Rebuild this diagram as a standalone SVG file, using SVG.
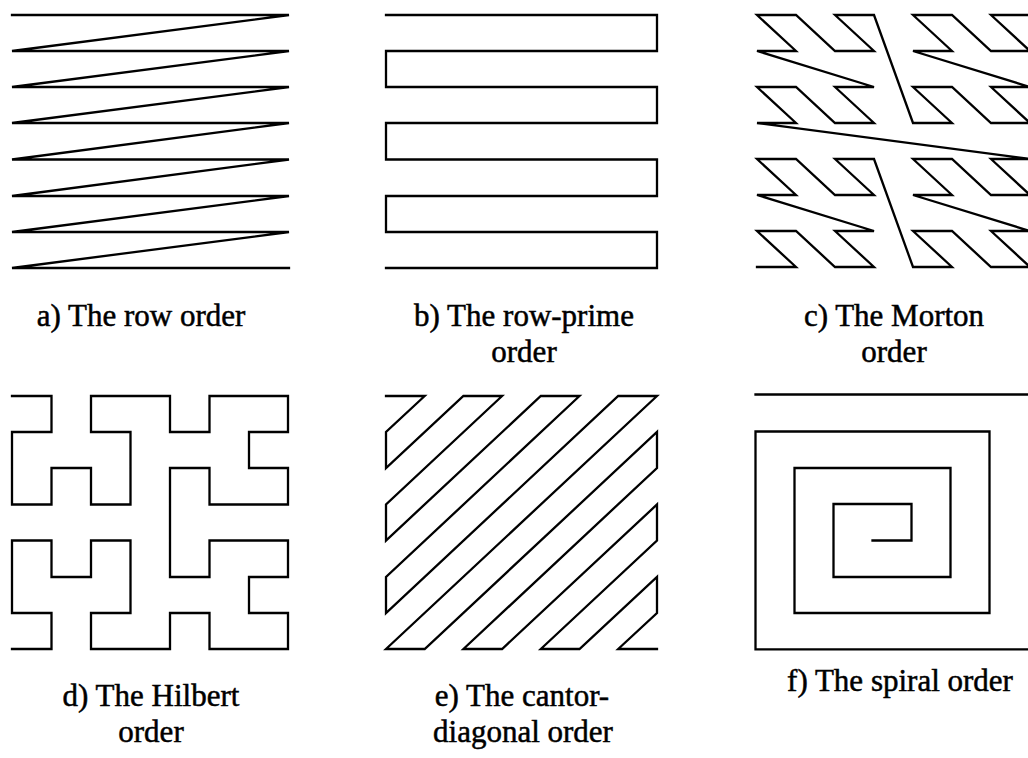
<svg xmlns="http://www.w3.org/2000/svg" width="1028" height="758" viewBox="0 0 1028 758">
<style>
.curve{fill:none;stroke:#000;stroke-width:2.3;stroke-linejoin:miter;stroke-linecap:square}
.lbl{font-family:"Liberation Serif","Times New Roman",serif;font-size:31px;fill:#000;stroke:#000;stroke-width:0.5;text-anchor:middle}
</style>
<rect width="1028" height="758" fill="#fff"/>
<g id="panel-a">
<path class="curve" d="M12,15 H289 L12,51 H289 L12,87 H289 L12,123 H289 L12,159.5 H289 L12,196 H289 L12,232 H289 L12,268 H289"/>
<text class="lbl" x="141" y="326">a) The row order</text>
</g>
<g id="panel-b">
<path class="curve" d="M386,15 H657 V51 H386 V87 H657 V123 H386 V159.5 H657 V196 H386 V232 H657 V268 H386"/>
<text class="lbl" x="524" y="326">b) The row-prime</text>
<text class="lbl" x="524" y="362">order</text>
</g>
<g id="panel-c">
<path class="curve" d="M757,267 L796,267 L757,231 L796,231 L835,267 L874,267 L835,231 L874,231 L757,195 L796,195 L757,159 L796,159 L835,195 L874,195 L835,159 L874,159 L913,267 L952,267 L913,231 L952,231 L991,267 L1030,267 L991,231 L1030,231 L913,195 L952,195 L913,159 L952,159 L991,195 L1030,195 L991,159 L1030,159 L757,123 L796,123 L757,87 L796,87 L835,123 L874,123 L835,87 L874,87 L757,51 L796,51 L757,15 L796,15 L835,51 L874,51 L835,15 L874,15 L913,123 L952,123 L913,87 L952,87 L991,123 L1030,123 L991,87 L1030,87 L913,51 L952,51 L913,15 L952,15 L991,51 L1030,51 L991,15 L1030,15"/>
<text class="lbl" x="894" y="326">c) The Morton</text>
<text class="lbl" x="894" y="362">order</text>
</g>
<g id="panel-d">
<path class="curve" d="M12,396 H51.5 V432 H12 V504.5 H51.5 V468 H91 V504.5 H130.5 V432 H91 V396 H170 V432 H209.5 V396 H288 V432 H249 V468 H288 V504.5 H209.5 V468 H170 V577 H209.5 V540.5 H288 V577 H249 V613 H288 V649 H209.5 V613 H170 V649 H91 V613 H130.5 V540.5 H91 V577 H51.5 V540.5 H12 V613 H51.5 V649 H12"/>
<text class="lbl" x="151" y="706">d) The Hilbert</text>
<text class="lbl" x="151" y="742">order</text>
</g>
<g id="panel-e">
<path class="curve" d="M386,396 H424.7 L386,432 V468 L463.4,396 H502.1 L386,504.5 V540.5 L540.8,396 H579.5 L386,577 V613 L618.2,396 H657 L386,649 H424.7 L657,432 V468 L463.4,649 H502.1 L657,504.5 V540.5 L540.8,649 H579.5 L657,577 V613 L618.2,649 H657"/>
<text class="lbl" x="522" y="706">e) The cantor-</text>
<text class="lbl" x="523" y="742">diagonal order</text>
</g>
<g id="panel-f">
<path class="curve" d="M755.5,394.5 H1031 V649.3 H755.5 V431.5 H989.5 V613 H794.5 V468 H950.5 V577 H833.5 V504 H911.5 V540.5 H872.5"/>
<text class="lbl" x="900" y="691">f) The spiral order</text>
</g>
<g id="connectors"></g>
</svg>
